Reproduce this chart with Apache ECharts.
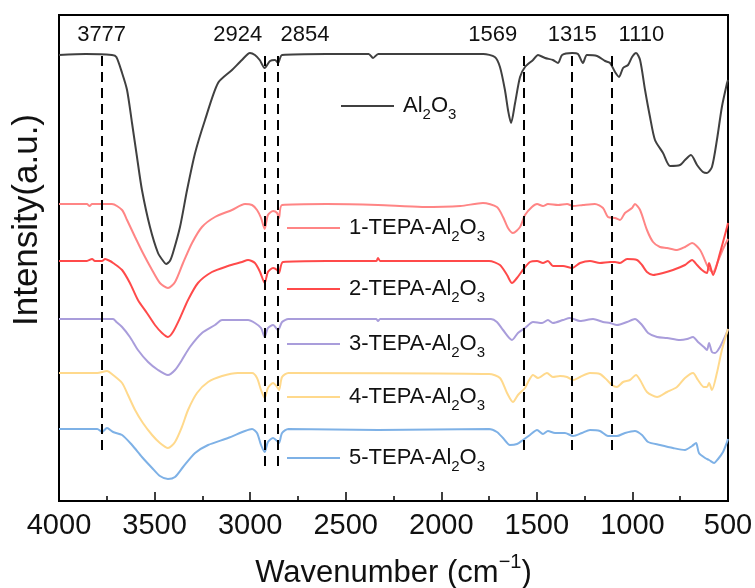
<!DOCTYPE html>
<html>
<head>
<meta charset="utf-8">
<script src="https://cdn.jsdelivr.net/npm/echarts@6/dist/echarts.min.js"></script>
<style>
  html, body { margin: 0; padding: 0; background: #fff; }
  #fig_ftir { width: 755px; height: 588px; }
</style>
</head>
<body>
<div id="fig_ftir"></div>
<script>
// FTIR spectra, offset vertically (arbitrary units), [wavenumber, intensity]
var seriesNames = ['Al2O3', '1-TEPA-Al2O3', '2-TEPA-Al2O3', '3-TEPA-Al2O3', '4-TEPA-Al2O3', '5-TEPA-Al2O3'];
var seriesColors = ['#404040', '#ff8585', '#ff4a4a', '#a99ddb', '#ffd98c', '#7eb1e6'];

var peakMarks = [3777, 2924, 2854, 1569, 1315, 1110];

var al2o3 = [
    [4000, 446], [3860, 447], [3723, 446], [3700, 444], [3670, 428], [3644, 411], [3618, 378],
    [3592, 344], [3566, 311], [3524, 274], [3482, 248], [3455, 240], [3440, 237], [3420, 240],
    [3404, 248], [3367, 274], [3330, 311], [3288, 348], [3236, 381], [3168, 418], [3095, 431],
    [3043, 441], [3001, 448], [2975, 446], [2950, 441], [2924, 433], [2896, 440], [2870, 441],
    [2854, 438], [2833, 446], [2600, 447], [2380, 447], [2357, 443], [2330, 447], [2000, 447],
    [1780, 447], [1720, 444], [1693, 434], [1667, 411], [1650, 390], [1635, 378], [1614, 398],
    [1588, 424], [1562, 434], [1520, 441], [1494, 446], [1457, 443], [1416, 441], [1389, 438],
    [1368, 446], [1316, 448], [1285, 447], [1259, 438], [1238, 446], [1185, 445], [1143, 440],
    [1117, 438], [1091, 429], [1070, 424], [1049, 433], [1023, 436], [1002, 444], [981, 448],
    [960, 441], [934, 411], [908, 384], [882, 361], [840, 348], [803, 335], [751, 336],
    [725, 341], [694, 346], [662, 336], [631, 329], [610, 328], [584, 334], [558, 361],
    [532, 394], [505, 418], [500, 421]
];

var tepa1 = [
    [4000, 297], [3854, 297], [3840, 295], [3827, 297], [3723, 297], [3670, 291], [3644, 281],
    [3602, 264], [3561, 248], [3513, 231], [3472, 218], [3430, 213], [3393, 219], [3351, 238],
    [3304, 258], [3252, 274], [3184, 284], [3095, 291], [3027, 297], [2990, 296], [2964, 291],
    [2943, 283], [2924, 272], [2907, 286], [2880, 290], [2859, 288], [2849, 283], [2833, 296],
    [2600, 297], [2331, 296], [2100, 294], [1900, 295], [1782, 298], [1709, 294], [1677, 284],
    [1651, 273], [1625, 268], [1588, 274], [1562, 286], [1526, 294], [1499, 297], [1468, 295],
    [1442, 297], [1389, 296], [1342, 297], [1311, 295], [1259, 296], [1196, 297], [1154, 293],
    [1128, 284], [1091, 283], [1065, 281], [1039, 288], [1002, 293], [987, 297], [960, 291],
    [924, 271], [892, 259], [856, 254], [819, 253], [767, 251], [725, 254], [688, 258],
    [646, 251], [610, 236], [594, 231], [578, 229], [552, 240], [526, 252], [500, 262]
];

var tepa2 = [
    [4000, 240], [3854, 240], [3827, 242], [3812, 240], [3775, 240], [3759, 242], [3733, 240],
    [3717, 238], [3670, 231], [3629, 218], [3587, 201], [3540, 188], [3498, 176], [3461, 168],
    [3430, 164], [3404, 169], [3367, 183], [3325, 201], [3273, 218], [3200, 229], [3116, 235],
    [3043, 239], [3011, 241], [2975, 238], [2948, 229], [2924, 218], [2907, 229], [2880, 233],
    [2859, 231], [2849, 228], [2828, 239], [2600, 240], [2340, 240], [2331, 243], [2320, 240],
    [2000, 240], [1750, 240], [1693, 236], [1656, 226], [1630, 218], [1604, 223], [1573, 231],
    [1536, 239], [1499, 240], [1468, 238], [1442, 240], [1416, 235], [1363, 235], [1316, 233],
    [1274, 238], [1222, 240], [1170, 238], [1117, 239], [1091, 239], [1065, 238], [1028, 242],
    [976, 241], [950, 236], [924, 229], [892, 226], [840, 228], [788, 231], [725, 236],
    [688, 241], [662, 236], [636, 231], [610, 228], [599, 238], [578, 226], [542, 248],
    [505, 274], [500, 278]
];

var tepa3 = [
    [4000, 182], [3717, 182], [3700, 179], [3670, 174], [3629, 164], [3587, 151], [3534, 139],
    [3482, 131], [3430, 126], [3393, 131], [3357, 141], [3315, 154], [3252, 168], [3184, 176],
    [3147, 181], [3011, 181], [2975, 178], [2943, 173], [2924, 164], [2907, 173], [2880, 176],
    [2854, 171], [2833, 179], [2800, 182], [2340, 182], [2331, 180], [2320, 182], [1740, 182],
    [1709, 179], [1677, 171], [1630, 161], [1599, 168], [1562, 173], [1520, 179], [1473, 178],
    [1442, 181], [1416, 178], [1363, 181], [1327, 183], [1274, 180], [1206, 182], [1154, 179],
    [1117, 178], [1081, 176], [1028, 179], [987, 182], [950, 176], [918, 168], [871, 164],
    [819, 163], [751, 161], [714, 162], [683, 164], [657, 159], [626, 154], [610, 151],
    [599, 158], [584, 149], [568, 148], [542, 154], [505, 169], [500, 172]
];

var tepa4 = [
    [4000, 128], [3800, 128], [3749, 130], [3717, 126], [3670, 118], [3639, 106], [3602, 91],
    [3561, 78], [3513, 66], [3472, 58], [3430, 53], [3393, 59], [3357, 74], [3325, 91],
    [3278, 108], [3220, 119], [3147, 125], [3064, 128], [2990, 128], [2964, 123], [2943, 111],
    [2924, 103], [2907, 113], [2880, 118], [2859, 114], [2849, 111], [2833, 124], [2800, 128],
    [1750, 127], [1693, 123], [1656, 108], [1625, 99], [1599, 106], [1562, 113], [1546, 119],
    [1520, 126], [1494, 123], [1447, 128], [1416, 124], [1379, 125], [1342, 124], [1311, 121],
    [1274, 124], [1222, 128], [1170, 127], [1133, 121], [1107, 116], [1081, 114], [1049, 119],
    [1013, 121], [981, 126], [960, 121], [924, 109], [871, 104], [819, 109], [767, 114],
    [725, 123], [683, 128], [657, 121], [626, 114], [610, 114], [599, 118], [584, 111],
    [558, 128], [532, 151], [505, 169], [500, 172]
];

var tepa5 = [
    [4000, 72], [3800, 72], [3775, 69], [3749, 73], [3717, 69], [3670, 66], [3618, 56],
    [3566, 44], [3513, 33], [3472, 25], [3430, 22], [3393, 24], [3351, 34], [3288, 48],
    [3220, 56], [3116, 63], [3027, 70], [2990, 72], [2964, 68], [2943, 56], [2924, 49],
    [2907, 59], [2880, 63], [2859, 60], [2849, 58], [2833, 68], [2800, 72], [2331, 71],
    [1750, 72], [1709, 69], [1677, 63], [1641, 56], [1604, 57], [1573, 61], [1536, 66],
    [1499, 71], [1468, 67], [1442, 70], [1405, 68], [1353, 68], [1311, 65], [1264, 68],
    [1222, 71], [1170, 70], [1128, 65], [1081, 65], [1039, 68], [987, 70], [950, 66],
    [918, 59], [856, 56], [788, 53], [725, 51], [688, 55], [667, 58], [652, 48],
    [620, 43], [599, 41], [573, 38], [552, 42], [526, 49], [505, 59], [500, 62]
];

var seriesData = [al2o3, tepa1, tepa2, tepa3, tepa4, tepa5];

var fig_ftir = {
    plot_id: 'fig_ftir',
    plot_chart: null,

    init: function() {
        var fontFamily = '"Liberation Sans", Arial, sans-serif';
        var richSub = {
            b: { fontSize: 22, fontFamily: fontFamily, color: '#111' },
            s: { fontSize: 15, fontFamily: fontFamily, color: '#111', padding: [17, 0, 0, 0] }
        };
        // legend boxes, one per series (line start x, line centre y)
        var legendPos = [
            { left: 341, y: 111, w: 53 },
            { left: 287, y: 233, w: 53 },
            { left: 287, y: 294, w: 53 },
            { left: 287, y: 349, w: 53 },
            { left: 287, y: 402, w: 53 },
            { left: 287, y: 463, w: 53 }
        ];
        var legends = [];
        var series = [];
        for (let i = 0; i < seriesNames.length; i++) {
            legends.push({
                data: [seriesNames[i]],
                left: legendPos[i].left,
                top: legendPos[i].y - 16,
                padding: 0,
                icon: 'rect',
                itemWidth: legendPos[i].w,
                itemHeight: 2,
                selectedMode: false,
                formatter: function(name) {
                    var head = name.replace('Al2O3', '');
                    return (head ? '{b|' + head + '}' : '') + '{b|Al}{s|2}{b|O}{s|3}';
                },
                textStyle: { padding: [0, 0, 0, 4], rich: richSub }
            });
            series.push({
                name: seriesNames[i],
                type: 'line',
                data: seriesData[i],
                symbol: 'none',
                smooth: 0.25,
                color: seriesColors[i],
                lineStyle: { width: 2, color: seriesColors[i] },
                z: 3
            });
        }

        // dashed reference lines with their wavenumber labels
        var labelShift = { 3777: 0, 2924: -27, 2854: 27, 1569: -31, 1315: 0, 1110: 30 };
        var lowEnd = { 2924: 35, 2854: 35 };
        var markData = [];
        for (let i = 0; i < peakMarks.length; i++) {
            var wn = peakMarks[i];
            markData.push([
                { coord: [wn, lowEnd[wn] || 51] },
                { coord: [wn, 451],
                  label: { show: true, position: 'end', formatter: String(wn),
                           offset: [labelShift[wn], 0] } }
            ]);
        }
        series.push({
            name: 'marks',
            type: 'line',
            data: [],
            markLine: {
                silent: true,
                symbol: ['none', 'none'],
                lineStyle: { color: '#000', width: 2, type: [10, 6] },
                label: {
                    show: true, position: 'end', distance: 4,
                    fontSize: 22, fontFamily: fontFamily, color: '#111'
                },
                data: markData
            },
            z: 2
        });

        this.option = {
            animation: false,
            backgroundColor: '#fff',
            grid: {
                left: 59, right: 27, top: 15, bottom: 87,
                show: true, borderColor: '#000', borderWidth: 2,
                containLabel: false, outerBoundsMode: 'none'
            },
            legend: legends,
            xAxis: {
                type: 'value',
                inverse: true,
                min: 500, max: 4000, interval: 500,
                name: 'Wavenumber (cm{sup|\u22121})',
                nameLocation: 'middle',
                nameGap: 51,
                nameTextStyle: {
                    fontSize: 31, fontFamily: fontFamily, color: '#111',
                    rich: { sup: { fontSize: 20, fontFamily: fontFamily, color: '#111', padding: [0, 0, 22, 0] } }
                },
                axisLine: { show: true, lineStyle: { color: '#000', width: 2 } },
                axisTick: { show: true, inside: true, length: 9, lineStyle: { color: '#000', width: 1.5 } },
                minorTick: { show: true, splitNumber: 2, length: 5, lineStyle: { color: '#000', width: 1.5 } },
                axisLabel: {
                    fontSize: 29, fontFamily: fontFamily, color: '#111', margin: 10,
                    showMinLabel: true, showMaxLabel: true,
                    formatter: function(val) {
                        return String(val);
                    }
                },
                splitLine: { show: false }
            },
            yAxis: {
                type: 'value',
                min: 0, max: 486,
                name: 'Intensity(a.u.)',
                nameLocation: 'middle',
                nameGap: 14,
                nameTextStyle: {
                    fontSize: 35, fontFamily: fontFamily, color: '#111',
                    padding: [0, 0, 0, 76]
                },
                axisLine: { show: true, lineStyle: { color: '#000', width: 2 } },
                axisTick: { show: false },
                axisLabel: { show: false },
                splitLine: { show: false }
            },
            series: series
        };

        this.plot_chart = echarts.init(document.getElementById(this.plot_id), null, { renderer: 'canvas' });
        this.plot_chart.setOption(this.option);
    }
};

fig_ftir.init();
</script>
</body>
</html>
